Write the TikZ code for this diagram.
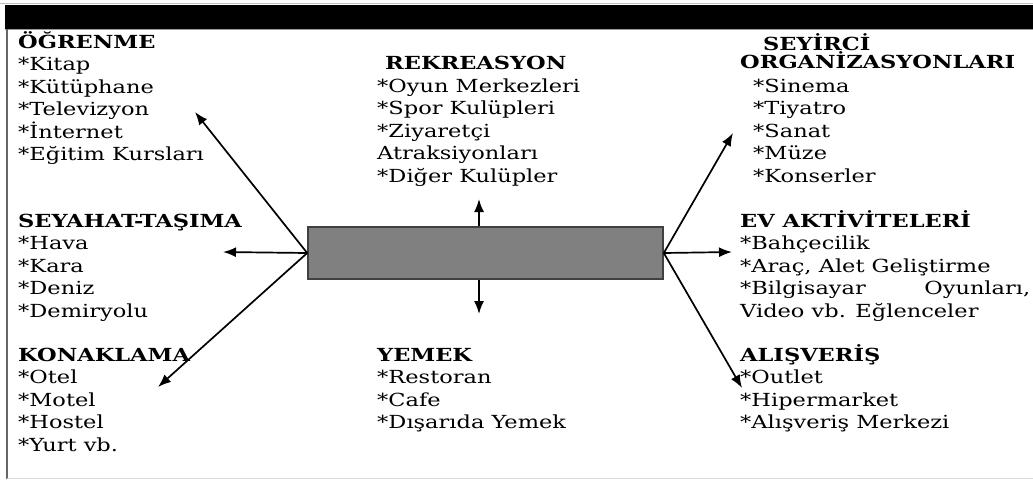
\documentclass[tikz,border=0pt]{standalone}
\usepackage{fontspec}
\setmainfont{DejaVu Serif}[FakeStretch=1.25]
\usetikzlibrary{arrows.meta}
\begin{document}
\begin{tikzpicture}[x=1pt,y=-1pt,
  txt/.style={inner sep=0pt, anchor=base west, align=left,
    font=\fontsize{18}{22.5}\selectfont},
  ttl/.style={inner sep=0pt, anchor=base west, align=left,
    font=\fontsize{18}{18}\selectfont\bfseries},
  arr/.style={line width=1.7pt, draw=black, -{Latex[length=13pt,width=10pt]}},
  box/.style={draw=black!75, line width=1.6pt, fill=black!50,
    minimum width=355pt, minimum height=52pt, inner sep=0pt}]
\useasboundingbox (0,0) rectangle (1033,480);
% frame
\draw[black!25, line width=1pt] (0,3.5) -- (1033,3.5);
\fill[black] (5,5) rectangle (1033,28.5);
\draw[black!40, line width=1pt] (5,29) -- (1033,29);
\draw[black!60, line width=1.5pt] (7,29) -- (7,479);
\draw[black!15, line width=1pt] (7,478.5) -- (1033,478.5);
% center box
\node[box] (c) at (485.5,253) {};
% texts (anchored at the baseline of the last line)
\node[txt] (ogr) at (18,160.5) {\textbf{ÖĞRENME}\\{*}Kitap\\{*}Kütüphane\\{*}Televizyon\\{*}İnternet\\{*}Eğitim Kursları};
\node[txt] (sey) at (18,317) {\textbf{SEYAHAT-TAŞIMA}\\{*}Hava\\{*}Kara\\{*}Deniz\\{*}Demiryolu};
\node[txt] (kon) at (18,451) {\textbf{KONAKLAMA}\\{*}Otel\\{*}Motel\\{*}Hostel\\{*}Yurt vb.};
\node[txt] (rek) at (377,182) {\hspace*{8pt}\textbf{REKREASYON}\\{*}Oyun Merkezleri\\{*}Spor Kulüpleri\\{*}Ziyaretçi\\Atraksiyonları\\{*}Diğer Kulüpler};
\node[txt] (yem) at (377,428.5) {\textbf{YEMEK}\\{*}Restoran\\{*}Cafe\\{*}Dışarıda Yemek};
\node[ttl] (seyt) at (740,68) {\hspace*{23pt}SEYİRCİ\\ORGANİZASYONLARI};
\node[txt] (seyi) at (753,182) {{*}Sinema\\{*}Tiyatro\\{*}Sanat\\{*}Müze\\{*}Konserler};
\node[txt] (ev) at (740,317) {\textbf{EV AKTİVİTELERİ}\\{*}Bahçecilik\\{*}Araç, Alet Geliştirme\\\hbox to 290pt{{*}Bilgisayar\hfill Oyunları,}\\Video vb. Eğlenceler};
\node[txt] (alis) at (740,428.5) {\textbf{ALIŞVERİŞ}\\{*}Outlet\\{*}Hipermarket\\{*}Alışveriş Merkezi};
% arrow tips
\coordinate (tOgr) at (195,112);
\coordinate (tSey) at (223,252);
\coordinate (tKon) at (158,387);
\coordinate (tUp) at (479,199);
\coordinate (tDn) at (479,314);
\coordinate (tSeyi) at (733,133);
\coordinate (tEv) at (732,252);
\coordinate (tAlis) at (742,388);
% connectors
\draw[arr] (c.west) -- (tOgr);
\draw[arr] (c.west) -- (tSey);
\draw[arr] (c.west) -- (tKon);
\draw[arr] (c.north -| tUp) -- (tUp);
\draw[arr] (c.south -| tDn) -- (tDn);
\draw[arr] (c.east) -- (tSeyi);
\draw[arr] (c.east) -- (tEv);
\draw[arr] (c.east) -- (tAlis);
\end{tikzpicture}
\end{document}
